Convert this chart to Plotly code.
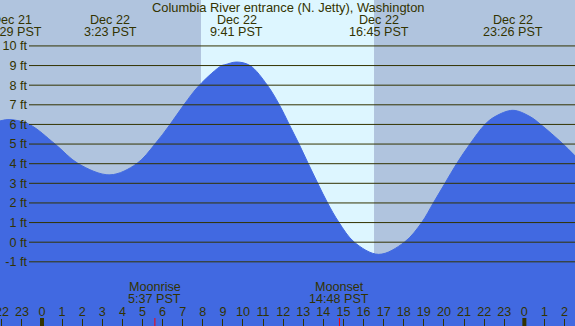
import plotly.graph_objects as go

# ---- data ----
tide_hours = [-2.09, -1.6, -0.63, 0.65, 1.81, 3.38, 4.71, 5.62, 6.37, 7.06, 7.83,
              8.94, 9.1, 9.68, 10.35, 11.21, 11.81, 12.3, 12.79, 13.25, 13.72, 14.21, 14.78,
              15.54, 16.75, 18.03, 18.89, 19.47, 20.05, 20.63, 21.29, 22.04,
              22.54, 23.43, 24.28, 24.81, 25.93, 26.52]
tide_ft = [6.18, 6.25, 6.0, 5.0, 4.0, 3.43, 4.0, 5.0, 6.0, 7.0, 8.0,
           9.0, 9.04, 9.18, 9.0, 8.0, 7.0, 6.0, 5.0, 4.0, 3.0, 2.0, 1.0,
           0.0, -0.62, 0.0, 1.0, 2.0, 3.0, 4.0, 5.0, 6.0,
           6.4, 6.72, 6.4, 6.0, 5.0, 4.4]

level_ft = list(range(-1, 11))
level_labels = [f"{v} ft" for v in level_ft]

hour_ticks = list(range(-2, 27))
hour_labels = [str(h % 24) for h in hour_ticks]
midnights = [0, 24]

extreme_hours = [-1.517, 3.383, 9.683, 16.75, 23.433]
extreme_dates = ["Dec 21", "Dec 22", "Dec 22", "Dec 22", "Dec 22"]
extreme_times = ["22:29 PST", "3:23 PST", "9:41 PST", "16:45 PST", "23:26 PST"]

sunrise_h, sunset_h = 7.91, 16.52

moon_hours = [5.617, 14.8]
moon_names = ["Moonrise", "Moonset"]
moon_times = ["5:37 PST", "14:48 PST"]

title = "Columbia River entrance (N. Jetty), Washington"

x_range = [-2.09, 26.52]
y_range = [-4.27, 12.34]

# ---- style ----
W, H = 575, 326
NIGHT = "#B0C4DE"
DAY = "#DDF6FF"
WATER = "#4169E1"
INK = "#333300"
FAM = "Liberation Sans, Arial, sans-serif"
FONT = dict(family=FAM, size=12.6, color=INK)
TFONT = dict(family=FAM, size=12.9, color=INK)

fig = go.Figure()
fig.add_trace(go.Scatter(x=x_range, y=[y_range[0], y_range[0]], mode="lines",
                         line=dict(width=0, color=WATER), hoverinfo="skip", showlegend=False))
fig.add_trace(go.Scatter(x=tide_hours, y=tide_ft, mode="lines", fill="tonexty",
                         fillcolor=WATER, line=dict(color=WATER, width=1, shape="spline", smoothing=1),
                         hoverinfo="skip", showlegend=False))

shapes = []
# daylight band
shapes.append(dict(type="rect", xref="x", yref="paper", x0=sunrise_h, x1=sunset_h, y0=0, y1=1,
                   fillcolor=DAY, line=dict(width=0), layer="below"))
# level lines
for v in level_ft:
    shapes.append(dict(type="line", xref="paper", yref="y", x0=29 / W, x1=1, y0=v, y1=v,
                       line=dict(color=INK, width=1), layer="above"))
# midnight ticks
for m in midnights:
    shapes.append(dict(type="line", xref="x", yref="paper", x0=m, x1=m, y0=0, y1=8 / H,
                       line=dict(color=INK, width=4), layer="above"))
# moon ticks
for mh in moon_hours:
    shapes.append(dict(type="line", xref="x", yref="paper", x0=mh, x1=mh, y0=0, y1=8 / H,
                       line=dict(color="red", width=1), layer="above"))

annotations = []
annotations.append(dict(text=title, x=0.5, y=1 - 7.5 / H, xref="paper", yref="paper",
                        showarrow=False, font=TFONT, xanchor="center", yanchor="middle"))
for hx, d, t in zip(extreme_hours, extreme_dates, extreme_times):
    annotations.append(dict(text=d, x=hx, y=1 - 20 / H, xref="x", yref="paper",
                            showarrow=False, font=FONT, xanchor="center", yanchor="middle"))
    annotations.append(dict(text=t, x=hx, y=1 - 32 / H, xref="x", yref="paper",
                            showarrow=False, font=FONT, xanchor="center", yanchor="middle"))
for mh, n, t in zip(moon_hours, moon_names, moon_times):
    annotations.append(dict(text=n, x=mh, y=(H - 287.3) / H, xref="x", yref="paper",
                            showarrow=False, font=FONT, xanchor="center", yanchor="middle"))
    annotations.append(dict(text=t, x=mh, y=(H - 299.3) / H, xref="x", yref="paper",
                            showarrow=False, font=FONT, xanchor="center", yanchor="middle"))
# first hour label sits on the left edge (plotly hides clipped inside tick labels)
annotations.append(dict(text=hour_labels[0], x=hour_ticks[0], y=(H - 311.7) / H, xref="x",
                        yref="paper", showarrow=False, font=FONT, xanchor="center",
                        yanchor="middle"))

fig.update_layout(
    width=W, height=H, margin=dict(l=0, r=0, t=0, b=0),
    paper_bgcolor=NIGHT, plot_bgcolor=NIGHT,
    shapes=shapes, annotations=annotations, showlegend=False,
    xaxis=dict(range=x_range, showgrid=False, zeroline=False, showline=False,
               tickmode="array", tickvals=hour_ticks, ticktext=hour_labels,
               ticks="inside", ticklen=7, tickwidth=1, tickcolor=INK,
               ticklabelposition="inside", tickfont=FONT, fixedrange=True),
    yaxis=dict(range=y_range, showgrid=False, zeroline=False, showline=False,
               anchor="free", position=27 / W,
               tickmode="array", tickvals=level_ft, ticktext=level_labels,
               ticks="", tickfont=FONT, fixedrange=True),
)

fig.write_html("out.html", config={"displayModeBar": False},
               post_script="document.body.style.margin='0';document.body.style.overflow='hidden';")
